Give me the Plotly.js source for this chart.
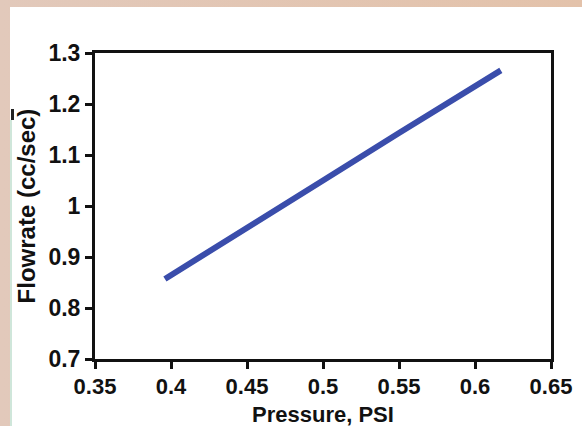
<!DOCTYPE html>
<html>
<head>
<meta charset="utf-8">
<script src="https://cdn.plot.ly/plotly-3.0.1.min.js"></script>
<style>
  html, body { margin: 0; padding: 0; }
  body {
    width: 582px; height: 426px; overflow: hidden; position: relative;
    background: linear-gradient(to right, #e2c9bb, #e3c2aa);
  }
  #chart { position: absolute; left: 10px; top: 7px; width: 572px; height: 419px; background: #fff; }
  #edge { position: absolute; left: 10px; top: 120px; width: 2px; height: 306px; background: #cfe6da; }
  #mark { position: absolute; left: 11px; top: 109px; width: 3px; height: 11px; background: #222; }
</style>
</head>
<body>
<div id="chart"></div>
<div id="edge"></div>
<div id="mark"></div>
<script>
// Data
const pressure = [0.396, 0.45, 0.5, 0.55, 0.617];
const flowrate = [0.857, 0.956, 1.05, 1.143, 1.266];

const xTitle = 'Pressure, PSI';
const yTitle = 'Flowrate (cc/sec)';

const tickFont = { family: 'Liberation Sans, Arial, sans-serif', size: 23, color: '#111', weight: 'bold' };
const xTickFont = { family: 'Liberation Sans, Arial, sans-serif', size: 22, color: '#111', weight: 'bold' };
const titleFont = { family: 'Liberation Sans, Arial, sans-serif', size: 24, color: '#111', weight: 'bold' };
const xTitleFont = { family: 'Liberation Sans, Arial, sans-serif', size: 22, color: '#111', weight: 'bold' };

const trace = {
  x: pressure,
  y: flowrate,
  type: 'scatter',
  mode: 'lines',
  line: { color: '#3a4dab', width: 6 },
  hoverinfo: 'skip'
};

const layout = {
  width: 572,
  height: 419,
  margin: { l: 85, r: 31, t: 46, b: 67 },
  paper_bgcolor: '#ffffff',
  plot_bgcolor: '#ffffff',
  showlegend: false,
  xaxis: {
    range: [0.35, 0.65],
    dtick: 0.05,
    tick0: 0.35,
    showgrid: false,
    zeroline: false,
    showline: true,
    linecolor: '#111',
    linewidth: 3,
    mirror: true,
    ticks: 'outside',
    ticklen: 7,
    tickwidth: 3,
    tickcolor: '#111',
    tickfont: xTickFont,
    ticklabelstandoff: -1,
    automargin: false
  },
  yaxis: {
    range: [0.7, 1.3],
    dtick: 0.1,
    tick0: 0.7,
    showgrid: false,
    zeroline: false,
    showline: true,
    linecolor: '#111',
    linewidth: 3,
    mirror: true,
    ticks: 'outside',
    ticklen: 7,
    tickwidth: 3,
    tickcolor: '#111',
    tickfont: tickFont,
    title: { text: yTitle, font: titleFont },
    automargin: false
  },
  annotations: [{
    text: xTitle,
    xref: 'paper', yref: 'paper',
    x: 0.5, y: -0.182,
    xanchor: 'center', yanchor: 'middle',
    showarrow: false,
    font: xTitleFont
  }]
};

Plotly.newPlot('chart', [trace], layout, { displayModeBar: false, staticPlot: true });
</script>
</body>
</html>
